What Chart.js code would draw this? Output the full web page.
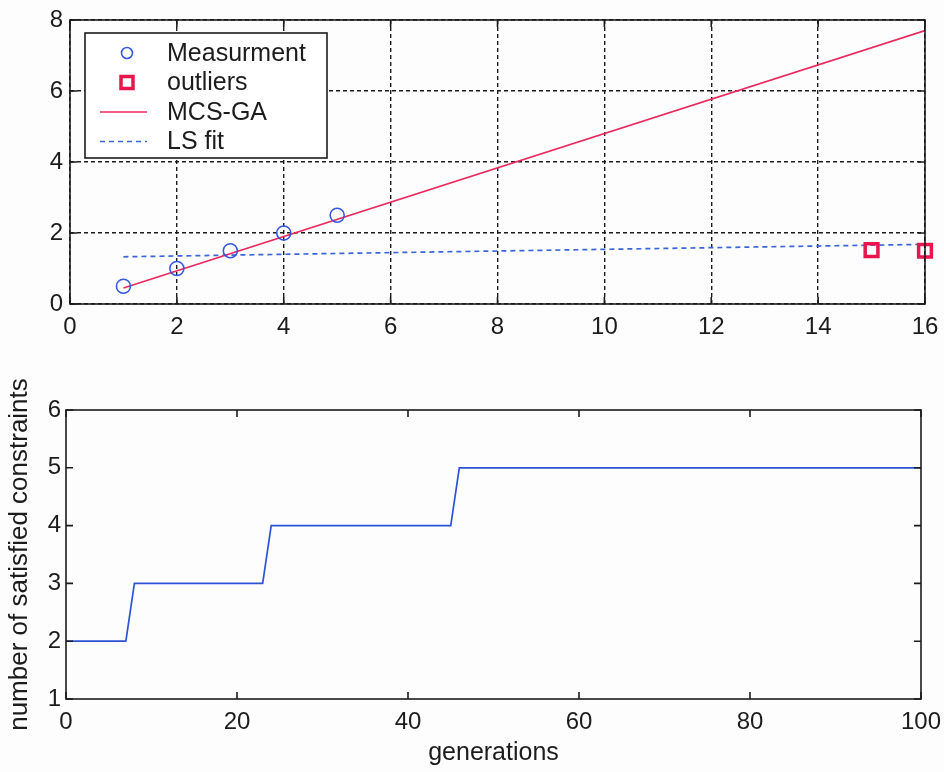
<!DOCTYPE html>
<html>
<head>
<meta charset="utf-8">
<script src="https://cdn.jsdelivr.net/npm/chart.js@4/dist/chart.umd.min.js"></script>
<style>
  body { margin: 0; background: #fdfdfd; }
  .wrap { position: absolute; left: 0; }
</style>
</head>
<body>
<div class="wrap" style="top:0"><canvas id="fitChart" width="944" height="345"></canvas></div>
<div class="wrap" style="top:345px"><canvas id="genChart" width="944" height="427"></canvas></div>
<script>
// Measured points and fits
const measX = [1, 2, 3, 4, 5];
const measY = [0.5, 1.0, 1.5, 2.0, 2.5];
const outlierX = [15, 16];
const outlierY = [1.52, 1.5];
const mcsX = [1, 16];
const mcsY = [0.45, 7.7];
const lsX = [1, 16];
const lsY = [1.33, 1.68];

// Constraint count per generation
const genX = [0, 7, 8, 23, 24, 45, 46, 100];
const satisfiedY = [2, 2, 3, 3, 4, 4, 5, 5];

const FONT = '"Liberation Sans", Arial, sans-serif';
const INK = '#1c1c1c';

function pts(xs, ys) {
  return xs.map((x, i) => ({ x: x, y: ys[i] }));
}

// fixed axis sizes so the plot box lands where the layout padding says
function fixX(h) {
  return s => { s.height = h; s.paddingLeft = 0; s.paddingRight = 0; };
}
function fixY(w) {
  return s => { s.width = w; s.paddingTop = 0; s.paddingBottom = 0; };
}

// Box around the plot with the ticks pointing inward
const frameTicks = {
  id: 'frameTicks',
  afterDraw(chart) {
    const { ctx, chartArea: a } = chart;
    const xs = chart.scales.x, ys = chart.scales.y;
    const len = 7;
    ctx.save();
    ctx.strokeStyle = INK;
    ctx.lineWidth = 1.6;
    ctx.setLineDash([]);
    ctx.beginPath();
    xs.ticks.forEach(t => {
      const px = xs.getPixelForValue(t.value);
      ctx.moveTo(px, a.bottom); ctx.lineTo(px, a.bottom - len);
      ctx.moveTo(px, a.top); ctx.lineTo(px, a.top + len);
    });
    ys.ticks.forEach(t => {
      const py = ys.getPixelForValue(t.value);
      ctx.moveTo(a.left, py); ctx.lineTo(a.left + len, py);
      ctx.moveTo(a.right, py); ctx.lineTo(a.right - len, py);
    });
    ctx.stroke();
    ctx.strokeRect(a.left, a.top, a.right - a.left, a.bottom - a.top);
    ctx.restore();
  }
};

// Legend box in the upper left corner of the plot
const boxLegend = {
  id: 'boxLegend',
  afterDraw(chart) {
    const { ctx, chartArea: a } = chart;
    const x0 = a.left + 15, y0 = a.top + 13, w = 242, h = 125;
    ctx.save();
    ctx.fillStyle = '#ffffff';
    ctx.fillRect(x0, y0, w, h);
    ctx.strokeStyle = INK;
    ctx.lineWidth = 1.6;
    ctx.setLineDash([]);
    ctx.strokeRect(x0, y0, w, h);
    ctx.font = '25px ' + FONT;
    ctx.textBaseline = 'middle';
    chart.data.datasets.forEach((ds, i) => {
      const cy = y0 + 20 + i * 29.5;
      const cx = x0 + 42;
      ctx.strokeStyle = ds.borderColor;
      if (ds.showLine) {
        ctx.lineWidth = ds.borderWidth;
        ctx.setLineDash(ds.borderDash || []);
        ctx.beginPath();
        ctx.moveTo(x0 + 15, cy); ctx.lineTo(x0 + 62, cy);
        ctx.stroke();
        ctx.setLineDash([]);
      } else if (ds.pointStyle === 'rect') {
        ctx.lineWidth = ds.pointBorderWidth;
        ctx.strokeRect(cx - 6, cy - 6, 12, 12);
      } else {
        ctx.lineWidth = ds.pointBorderWidth;
        ctx.beginPath();
        ctx.arc(cx, cy, 5.5, 0, Math.PI * 2);
        ctx.stroke();
      }
      ctx.fillStyle = INK;
      ctx.fillText(ds.label, x0 + 82, cy + 1);
    });
    ctx.restore();
  }
};

new Chart(document.getElementById('fitChart'), {
  type: 'scatter',
  data: {
    datasets: [
      {
        label: 'Measurment', data: pts(measX, measY), showLine: false,
        pointStyle: 'circle', pointRadius: 7, pointBorderWidth: 1.6,
        borderColor: '#3558de', backgroundColor: 'rgba(0,0,0,0)'
      },
      {
        label: 'outliers', data: pts(outlierX, outlierY), showLine: false,
        pointStyle: 'rect', pointRadius: 9, pointBorderWidth: 3.5,
        borderColor: '#e8164c', backgroundColor: 'rgba(0,0,0,0)', clip: false
      },
      {
        label: 'MCS-GA', data: pts(mcsX, mcsY), showLine: true, pointRadius: 0,
        borderColor: '#ea2a5e', borderWidth: 1.7
      },
      {
        label: 'LS fit', data: pts(lsX, lsY), showLine: true, pointRadius: 0,
        borderColor: '#3a66d8', borderWidth: 1.7, borderDash: [5, 4]
      }
    ]
  },
  options: {
    responsive: false,
    animation: false,
    layout: { padding: { top: 20, right: 19, left: 0, bottom: 0 } },
    plugins: { legend: { display: false }, tooltip: { enabled: false } },
    scales: {
      x: {
        type: 'linear', min: 0, max: 16,
        afterFit: fixX(41),
        grid: { color: INK, lineWidth: 1.4, drawTicks: false },
        border: { display: false, dash: [4, 3] },
        ticks: { stepSize: 2, padding: 9, color: INK, font: { family: FONT, size: 24 } }
      },
      y: {
        min: 0, max: 8,
        afterFit: fixY(70),
        grid: { color: INK, lineWidth: 1.4, drawTicks: false },
        border: { display: false, dash: [4, 3] },
        ticks: { stepSize: 2, padding: 7, color: INK, font: { family: FONT, size: 24 } }
      }
    }
  },
  plugins: [frameTicks, boxLegend]
});

new Chart(document.getElementById('genChart'), {
  type: 'scatter',
  data: {
    datasets: [{
      label: 'satisfied', data: pts(genX, satisfiedY), showLine: true,
      pointRadius: 0, borderColor: '#2d52d6', borderWidth: 1.7
    }]
  },
  options: {
    responsive: false,
    animation: false,
    layout: { padding: { top: 65, right: 23, left: 0, bottom: 0 } },
    plugins: { legend: { display: false }, tooltip: { enabled: false } },
    scales: {
      x: {
        type: 'linear', min: 0, max: 100,
        afterFit: fixX(73),
        grid: { display: false, drawTicks: false },
        border: { display: false },
        ticks: { stepSize: 20, padding: 9, color: INK, font: { family: FONT, size: 24 } },
        title: { display: true, text: 'generations', color: INK, font: { family: FONT, size: 25 } }
      },
      y: {
        min: 1, max: 6,
        afterFit: fixY(66),
        grid: { display: false, drawTicks: false },
        border: { display: false },
        ticks: { stepSize: 1, padding: 5, color: INK, font: { family: FONT, size: 24 } },
        title: { display: true, text: 'number of satisfied constraints', color: INK, font: { family: FONT, size: 26 } }
      }
    }
  },
  plugins: [frameTicks]
});
</script>
</body>
</html>
